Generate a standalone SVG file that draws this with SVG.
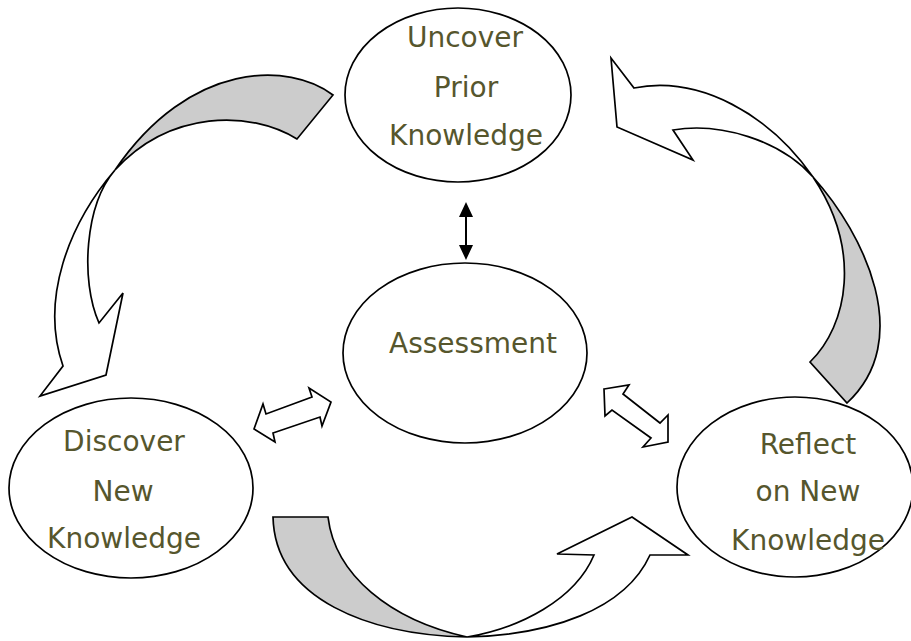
<svg xmlns="http://www.w3.org/2000/svg" width="911" height="641" viewBox="0 0 911 641">
<style>
.node{fill:#fff;stroke:#000;stroke-width:1.7}
.lbl{font-family:"DejaVu Sans","Liberation Sans",sans-serif;font-size:28px;fill:#56562d;text-anchor:middle}
.arw{fill:#fff;stroke:#000;stroke-width:1.7;stroke-linejoin:miter}
.back{fill:#cccccc;stroke:#000;stroke-width:1.7}
</style>
<rect width="911" height="641" fill="#fff"/>
<g id="connectors">
  <g id="arrow-top-left">
    <path class="back" d="M333,95 C290,62 190,60 115,170 C170,110 250,110 297,139 Z"/>
    <path class="arw" d="M115,170 C68,225 40,300 63,366 L40,396 L106,375 L123,293 L99,323 C80,280 85,205 115,170 Z"/>
  </g>
  <g id="arrow-top-right">
    <path class="back" d="M813,177 C865,235 915,340 847,403 L810,362 C848,325 862,250 813,177 Z"/>
    <path class="arw" d="M813,177 C770,115 700,75 634,88 L611,58 L617,127 L693,160 L673,130 C720,122 780,140 813,177 Z"/>
  </g>
  <g id="arrow-bottom">
    <path class="back" d="M273,517 L328,517 C335,575 390,620 467,637 C370,635 275,600 273,517 Z"/>
    <path class="arw" d="M467,637 C550,635 625,610 650,555 L688,555 L632,517 L557,554 L594,555 C575,600 520,628 467,637 Z"/>
  </g>
  <g id="arrow-assess-uncover">
    <line x1="466" y1="215" x2="466" y2="247" stroke="#000" stroke-width="2"/>
    <polygon points="466,202 459,217 473,217" fill="#000"/>
    <polygon points="466,260 459,245 473,245" fill="#000"/>
  </g>
  <polygon id="arrow-assess-discover" class="arw" points="254,429 263,404 266,414 312,397 309,388 331,402 322,426 320,417 273,433 275,442"/>
  <polygon id="arrow-assess-reflect" class="arw" points="604,389 629,385 623,394 660,423 668,415 668,442 643,447 651,438 612,410 605,416"/>
</g>
<g id="node-uncover">
  <ellipse class="node" cx="458" cy="95" rx="113" ry="87"/>
  <text class="lbl" x="465" y="47">Uncover</text>
  <text class="lbl" x="466" y="97">Prior</text>
  <text class="lbl" x="466" y="145">Knowledge</text>
</g>
<g id="node-assessment">
  <ellipse class="node" cx="465" cy="353" rx="122" ry="90"/>
  <text class="lbl" x="473" y="353">Assessment</text>
</g>
<g id="node-discover">
  <ellipse class="node" cx="131" cy="488" rx="122" ry="90"/>
  <text class="lbl" x="124" y="451">Discover</text>
  <text class="lbl" x="123" y="501">New</text>
  <text class="lbl" x="124" y="548">Knowledge</text>
</g>
<g id="node-reflect">
  <ellipse class="node" cx="795" cy="487" rx="118" ry="90"/>
  <text class="lbl" x="808" y="454">Reflect</text>
  <text class="lbl" x="808" y="501">on New</text>
  <text class="lbl" x="808" y="550">Knowledge</text>
</g>
</svg>
